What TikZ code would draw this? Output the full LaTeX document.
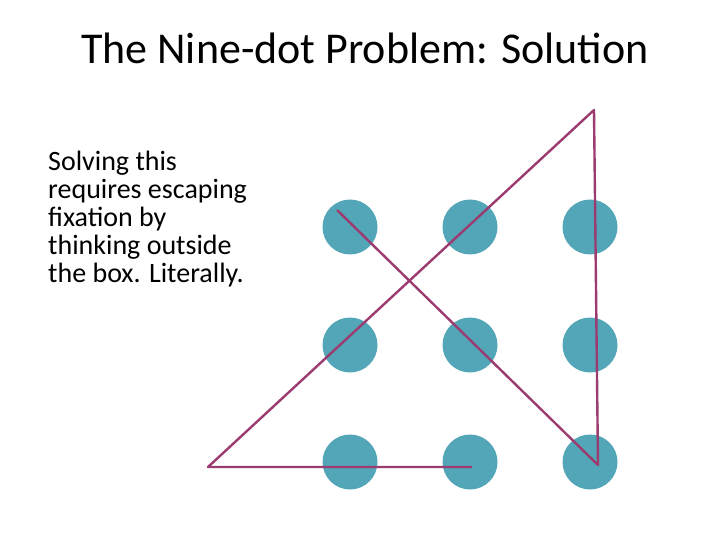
\documentclass[tikz,border=0pt]{standalone}
\usepackage{fontspec}
\setmainfont{Carlito}
\definecolor{dotc}{HTML}{52A6B8}
\definecolor{linec}{HTML}{9B3B6F}
\begin{document}
\begin{tikzpicture}[x=1pt,y=-1pt,
  dot/.style={circle,fill=dotc,minimum size=55pt,inner sep=0pt},
  seg/.style={draw=linec,line width=2.4pt}]
\useasboundingbox (0,0) rectangle (720,540);
\node[font=\fontsize{44}{48}\selectfont] (title) at (365,48) {The Nine-dot Problem: Solution};
\node[anchor=north west,align=left,inner sep=0pt,font=\fontsize{28}{28}\selectfont] (txt) at (48,151)
 {Solving this\\requires escaping\\fixation by\\thinking outside\\the box. Literally.};
\foreach \i/\x in {1/350,2/470,3/590}{
 \foreach \j/\y in {1/227,2/345,3/462}{
  \node[dot] (d\i\j) at (\x,\y) {};}}
\coordinate (p0) at (472,467);
\coordinate (p1) at (208,467);
\coordinate (p2) at (594,110);
\coordinate (p3) at (598,465);
\coordinate (p4) at (337,210);
\draw[seg,line join=round] (p0) -- (p1) -- (p2) -- (p3) -- (p4);
\end{tikzpicture}
\end{document}
